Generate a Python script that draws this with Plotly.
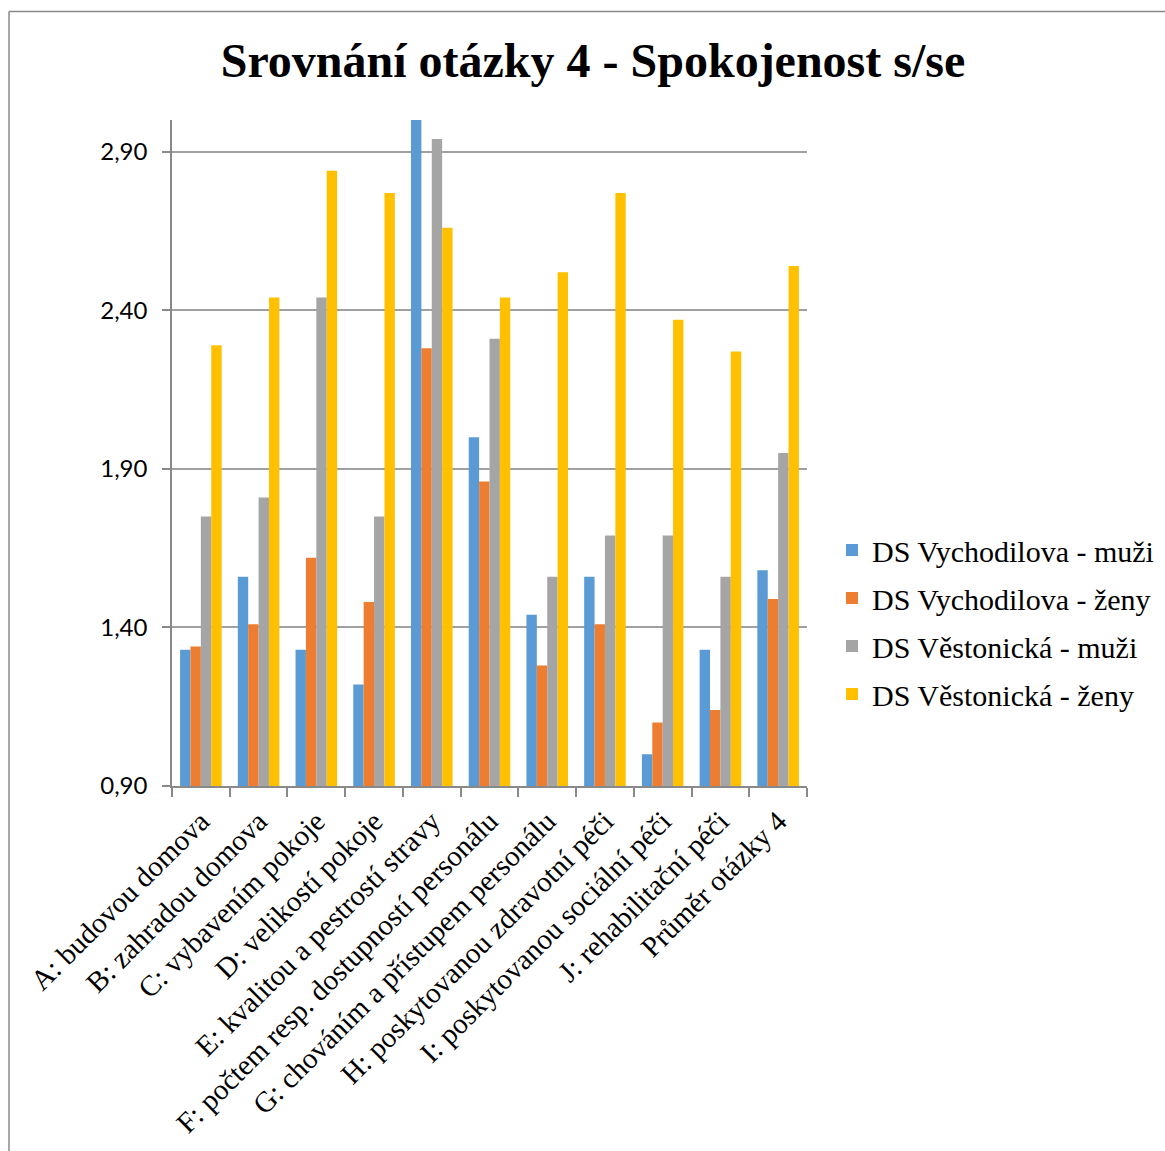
import plotly.graph_objects as go

categories = [
    "A: budovou domova",
    "B: zahradou domova",
    "C: vybavením pokoje",
    "D: velikostí pokoje",
    "E: kvalitou a pestrostí stravy",
    "F: počtem resp. dostupností personálu",
    "G: chováním a přístupem personálu",
    "H: poskytovanou zdravotní péči",
    "I: poskytovanou sociální péči",
    "J: rehabilitační péči",
    "Průměr otázky 4",
]

series_names = [
    "DS Vychodilova - muži",
    "DS Vychodilova - ženy",
    "DS Věstonická - muži",
    "DS Věstonická - ženy",
]

vychodilova_muzi = [1.33, 1.56, 1.33, 1.22, 3.00, 2.00, 1.44, 1.56, 1.00, 1.33, 1.58]
vychodilova_zeny = [1.34, 1.41, 1.62, 1.48, 2.28, 1.86, 1.28, 1.41, 1.10, 1.14, 1.49]
vestonicka_muzi = [1.75, 1.81, 2.44, 1.75, 2.94, 2.31, 1.56, 1.69, 1.69, 1.56, 1.95]
vestonicka_zeny = [2.29, 2.44, 2.84, 2.77, 2.66, 2.44, 2.52, 2.77, 2.37, 2.27, 2.54]

colors = ["#5B9BD5", "#ED7D31", "#A5A5A5", "#FFC000"]

W, H = 1165, 1151
L, R, T, B = 172, 358, 120, 365
PW, PH = W - L - R, H - T - B


def px_x(px):
    return (px - L) / PW


def px_y(py):
    return (H - B - py) / PH


serif = "Liberation Serif, Times New Roman, serif"

fig = go.Figure()
for i, (name, vals) in enumerate(zip(series_names,
                                     [vychodilova_muzi, vychodilova_zeny,
                                      vestonicka_muzi, vestonicka_zeny])):
    fig.add_trace(go.Bar(
        x=categories, y=vals, name=name,
        marker=dict(color=colors[i], line=dict(width=0)),
        legendgroup=f"g{i}",
    ))

fig.update_layout(
    width=W, height=H,
    margin=dict(l=L, r=R, t=T, b=B, autoexpand=False),
    paper_bgcolor="white", plot_bgcolor="white",
    barmode="group", bargap=0.28, bargroupgap=0,
    separators=", ",
    title=dict(
        text="<b>Srovnání otázky 4 - Spokojenost s/se</b>",
        font=dict(family=serif, size=48, color="black"),
        xref="container", x=593 / W, xanchor="center",
        yref="container", y=1 - 60 / H, yanchor="middle",
    ),
    legend=dict(
        x=px_x(832), xanchor="left",
        y=px_y(622), yanchor="middle",
        font=dict(family=serif, size=30, color="black"),
        tracegroupgap=6,
        bgcolor="rgba(0,0,0,0)",
    ),
    xaxis=dict(
        type="category",
        range=[-0.5, len(categories) - 0.5],
        tickangle=-45,
        tickfont=dict(family=serif, size=29, color="black"),
        ticks="outside", tickson="boundaries", ticklen=9,
        tickcolor="#898989", tickwidth=1.5,
        ticklabelstandoff=5,
        showline=True, linecolor="#898989", linewidth=1.5,
        showgrid=False,
    ),
    yaxis=dict(
        range=[0.9, 3.0],
        tick0=0.9, dtick=0.5, tickformat=".2f",
        tickfont=dict(family="Lato, Carlito, sans-serif", size=24, color="black"),
        ticks="outside", ticklen=8, tickcolor="#898989", tickwidth=1.5,
        ticklabelstandoff=10,
        showline=True, linecolor="#898989", linewidth=1.5,
        showgrid=True, gridcolor="#A0A0A0", gridwidth=1.5,
        zeroline=False,
    ),
    shapes=[
        dict(type="line", xref="paper", yref="paper",
             x0=px_x(9), x1=px_x(9), y0=px_y(11.5), y1=px_y(H + 20),
             line=dict(color="#898989", width=1.5)),
        dict(type="line", xref="paper", yref="paper",
             x0=px_x(9), x1=px_x(W + 20), y0=px_y(11.5), y1=px_y(11.5),
             line=dict(color="#898989", width=1.5)),
    ],
)

fig.write_html("out.html")
